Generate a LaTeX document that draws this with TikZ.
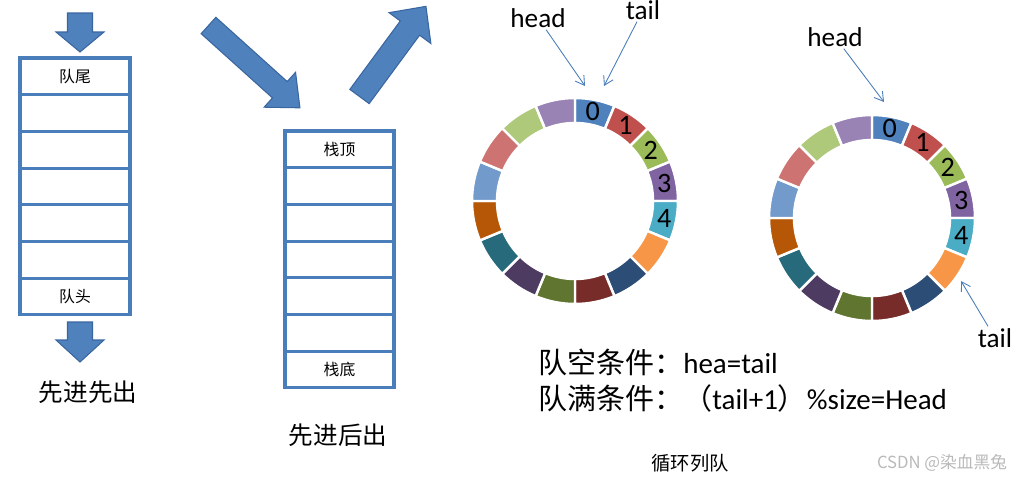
\documentclass[tikz,border=0pt]{standalone}
\usepackage{fontspec}
\setmainfont{Carlito}
\newfontfamily\cjk{Noto Sans CJK SC}
\usetikzlibrary{positioning, arrows.meta}

\definecolor{boxblue}{HTML}{4A7EBB}
\definecolor{arrowfill}{HTML}{4F81BD}
\definecolor{arrowline}{HTML}{3A66A0}
% ring slot colours
\definecolor{seg0}{HTML}{4F81BD}
\definecolor{seg1}{HTML}{C0504D}
\definecolor{seg2}{HTML}{9BBB59}
\definecolor{seg3}{HTML}{8064A2}
\definecolor{seg4}{HTML}{4BACC6}
\definecolor{seg5}{HTML}{F79646}
\definecolor{seg6}{HTML}{2C4D75}
\definecolor{seg7}{HTML}{772C2A}
\definecolor{seg8}{HTML}{5F7530}
\definecolor{seg9}{HTML}{4D3B62}
\definecolor{seg10}{HTML}{276A7C}
\definecolor{seg11}{HTML}{B65708}
\definecolor{seg12}{HTML}{729ACA}
\definecolor{seg13}{HTML}{CD7371}
\definecolor{seg14}{HTML}{AFC97A}
\definecolor{seg15}{HTML}{9983B5}

\begin{document}
\begin{tikzpicture}[
        x=0.02cm, y=-0.02cm,
        cell/.style={draw=boxblue, line width=1.8pt, fill=white, minimum width=2.2cm, minimum height=0.734cm, outer sep=0pt, inner sep=0pt, font=\cjk\fontsize{9pt}{10pt}\selectfont},
        bigarrow/.style={fill=arrowfill, draw=arrowline, line width=0.6pt, line join=miter},
        caption/.style={font=\cjk\fontsize{14pt}{16pt}\selectfont},
        ptrlabel/.style={font=\fontsize{15.5pt}{17pt}\selectfont, inner sep=1pt},
        ptr/.style={-{Straight Barb[length=5pt, width=6pt]}, draw=boxblue, line width=0.5pt},
        slotnum/.style={font=\fontsize{16pt}{18pt}\selectfont, inner sep=0pt},
        cond/.style={anchor=west, font=\fontsize{16.5pt}{18pt}\selectfont, inner sep=0pt}
    ]
        \useasboundingbox (0,0) rectangle (1023,480);

        % Queue (FIFO)
        \node (q1) [cell] at (75,76.4) {队尾};
        \foreach \i [count=\j] in {2,...,6}
            \node (q\i) [cell, below=0pt of q\j] {};
        \node (q7) [cell, below=0pt of q6] {队头};
        \node (fifo) [caption] at (88,392) {先进先出};

        % Stack (LIFO)
        \node (s1) [cell, minimum width=2.18cm] at (339.5,149.4) {栈顶};
        \foreach \i [count=\j] in {2,...,6}
            \node (s\i) [cell, minimum width=2.18cm, below=0pt of s\j] {};
        \node (s7) [cell, minimum width=2.18cm, below=0pt of s6] {栈底};
        \node (lifo) [caption] at (338,435) {先进后出};

        % Block arrows: tail x/y, angle, length, shaft, head width, head length
        \foreach \ax/\ay/\aa/\al/\as/\aw/\ah in {80/13/-90/39/25/48/20, 80/322/-90/40/25/48/22, 208.5/25.5/-42/123/22/47/27, 359.5/96.5/53.6/112/24/52/27}
        {
            \begin{scope}[shift={(\ax,\ay)}, rotate=\aa]
                \draw [bigarrow] (0,{-\as/2}) -- ({\al-\ah},{-\as/2}) -- ({\al-\ah},{-\aw/2}) -- (\al,0)
                    -- ({\al-\ah},{\aw/2}) -- ({\al-\ah},{\as/2}) -- (0,{\as/2}) -- cycle;
            \end{scope}
        }

        % Circular queues
        \foreach \rx/\ry in {575/201, 872/218}
        {
            \begin{scope}[shift={(\rx,\ry)}, y=0.02cm]
                \foreach \i in {0,...,15}
                {
                    \pgfmathsetmacro\sa{90-22.5*\i}
                    \pgfmathsetmacro\sb{\sa-22.5}
                    \fill [seg\i, draw=white, line width=1.4pt] (\sa:103) arc[start angle=\sa, end angle=\sb, radius=103]
                        -- (\sb:78) arc[start angle=\sb, end angle=\sa, radius=78] -- cycle;
                }
                \foreach \i in {0,...,4}
                    \node [slotnum] at ({78.75-22.5*\i}:91) {\i};
            \end{scope}
        }

        % Pointers
        \node (heada) [ptrlabel] at (538,18) {head};
        \node (taila) [ptrlabel] at (643,10) {tail};
        \node (headb) [ptrlabel] at (835,37) {head};
        \node (tailb) [ptrlabel] at (995,338) {tail};
        \coordinate (headatip) at (585,86);
        \coordinate (tailatip) at (604,86);
        \coordinate (headbtip) at (884,102);
        \coordinate (tailbtip) at (961,281);
        \draw [ptr] (heada) -- (headatip);
        \draw [ptr] (taila) -- (tailatip);
        \draw [ptr] (headb) -- (headbtip);
        \draw [ptr] (tailb) -- (tailbtip);

        % Conditions
        \node (empty) [cond] at (538,362) {{\cjk 队空条件：}hea=tail};
        \node (full) [cond] at (538,398) {{\cjk 队满条件：（}tail+1{\cjk ）}\%size=Head};
        \node (circ) [font=\cjk\fontsize{11pt}{13pt}\selectfont] at (690,463) {循环列队};
        \node (mark) [font=\cjk\fontsize{9.5pt}{11pt}\selectfont, text=gray!55] at (942,463) {CSDN @染血黑兔};
    \end{tikzpicture}
\end{document}
